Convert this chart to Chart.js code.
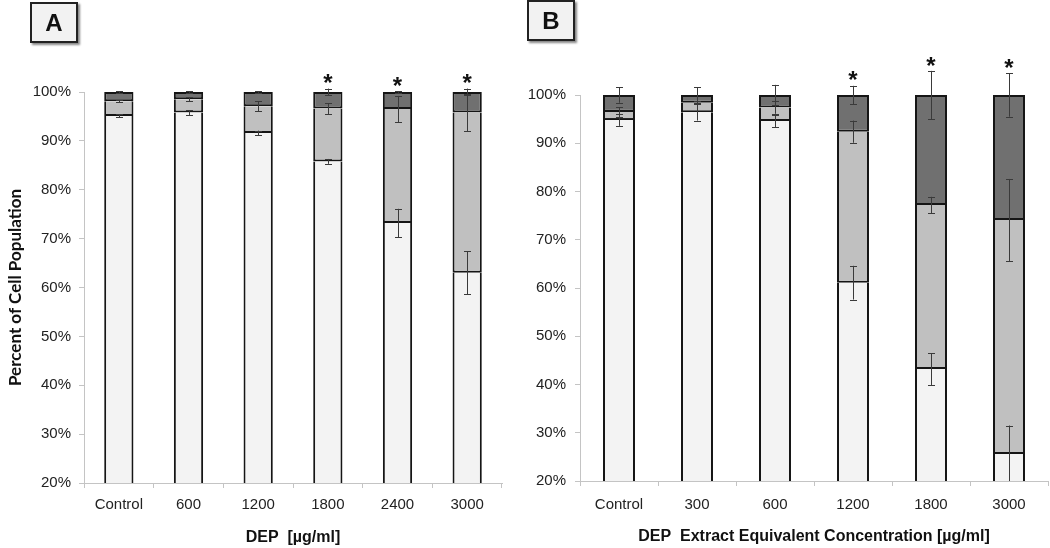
<!DOCTYPE html>
<html>
<head>
<meta charset="utf-8">
<script src="https://cdn.jsdelivr.net/npm/chart.js@4"></script>
<style>
  body { margin: 0; background: #fff; }
  .wrap { position: relative; width: 1050px; height: 548px; }
  #chartA { position: absolute; left: 0; top: 0; }
  #chartB { position: absolute; left: 520px; top: 0; }
  .panel-label {
    position: absolute; width: 44px; height: 37px;
    background: #f2f2f2; border: 2px solid #222;
    box-shadow: 2px 2px 2px #888;
    font: bold 24px "Liberation Sans", Arial, sans-serif;
    text-align: center; line-height: 37px; color: #111;
  }
</style>
</head>
<body>
<div class="wrap">
  <canvas id="chartA" width="520" height="548"></canvas>
  <canvas id="chartB" width="530" height="548"></canvas>
  <div class="panel-label" style="left:30px; top:2px;">A</div>
  <div class="panel-label" style="left:527px; top:0px;">B</div>
</div>
<script>
// Panel A - DEP
const labelsA = ['Control', '600', '1200', '1800', '2400', '3000'];
const whiteA = [95.1, 95.8, 91.6, 85.8, 73.2, 63.0];
const lightA = [3.0, 2.7, 5.5, 10.8, 23.3, 32.8];
const darkA = [1.9, 1.5, 2.9, 3.4, 3.5, 4.2];
const whiteErrA = [0.3, 0.5, 0.5, 0.5, 2.9, 4.4];
const lightErrA = [0.2, 0.4, 1.0, 1.1, 2.7, 3.8];
const darkErrA = [0.2, 0.2, 0.2, 0.7, 0.2, 0.7];
const sigA = [false, false, false, true, true, true];

// Panel B - DEP extract
const labelsB = ['Control', '300', '600', '1200', '1800', '3000'];
const whiteB = [94.8, 96.4, 94.6, 61.1, 43.2, 25.6];
const lightB = [1.7, 2.0, 2.8, 31.3, 34.0, 48.5];
const darkB = [3.5, 1.6, 2.6, 7.6, 22.8, 25.9];
const whiteErrB = [1.2, 1.7, 1.3, 3.5, 3.3, 5.9];
const lightErrB = [1.0, 0.3, 1.3, 2.3, 1.7, 8.5];
const darkErrB = [1.6, 1.6, 2.1, 1.9, 5.0, 4.5];
const sigB = [false, false, false, true, true, true];

const yTicks = [20, 30, 40, 50, 60, 70, 80, 90, 100];

const segColors = ['#f3f3f3', '#c0c0c0', '#707070'];
// each join between segments is drawn once (by the upper segment), 2px thick
const segBorders = [
  { left: 2, right: 2, top: 0, bottom: 2 },
  { left: 2, right: 2, top: 0, bottom: 2 },
  { left: 2, right: 2, top: 2, bottom: 2 }
];
const tickFont = { family: '"Liberation Sans", Arial, sans-serif', size: 15 };
const titleFont = { family: '"Liberation Sans", Arial, sans-serif', size: 16, weight: 'bold' };

// error bars + significance stars
const errorBars = {
  id: 'errorBars',
  afterDatasetsDraw(chart, args, opts) {
    const ctx = chart.ctx;
    const y = chart.scales.y;
    const yMin = y.getPixelForValue(y.min);
    ctx.save();
    ctx.strokeStyle = '#3a3a3a';
    ctx.lineWidth = 1;
    chart.data.datasets.forEach((ds, i) => {
      const meta = chart.getDatasetMeta(i);
      meta.data.forEach((bar, j) => {
        let top = 0;
        for (let k = 0; k <= i; k++) top += chart.data.datasets[k].data[j];
        const e = opts.errors[i][j];
        const yHi = y.getPixelForValue(top + e);
        const yLo = Math.min(y.getPixelForValue(top - e), yMin);
        const x = Math.round(bar.x) + 0.5;
        ctx.beginPath();
        ctx.moveTo(x, yHi); ctx.lineTo(x, yLo);
        ctx.moveTo(x - 3.5, Math.round(yHi) + 0.5); ctx.lineTo(x + 3.5, Math.round(yHi) + 0.5);
        if (yLo < yMin) {
          ctx.moveTo(x - 3.5, Math.round(yLo) + 0.5); ctx.lineTo(x + 3.5, Math.round(yLo) + 0.5);
        }
        ctx.stroke();
      });
    });
    // stars above the top error bar
    const last = chart.data.datasets.length - 1;
    const metaTop = chart.getDatasetMeta(last);
    ctx.fillStyle = '#111';
    ctx.font = 'bold 24px "Liberation Sans", Arial, sans-serif';
    ctx.textAlign = 'center';
    ctx.textBaseline = 'middle';
    opts.sig.forEach((s, j) => {
      if (!s) return;
      const yTop = y.getPixelForValue(100 + opts.errors[last][j]);
      ctx.fillText('*', metaTop.data[j].x, yTop - 4);
    });
    ctx.restore();
  }
};

function makeChart(id, labels, white, light, dark, errs, sig, cfg) {
  const series = [white, light, dark];
  return new Chart(document.getElementById(id), {
    type: 'bar',
    data: {
      labels: labels,
      datasets: series.map((d, i) => ({
        data: d,
        backgroundColor: segColors[i],
        borderColor: '#151515',
        borderWidth: segBorders[i],
        borderSkipped: false,
        categoryPercentage: 1,
        barPercentage: cfg.barPct
      }))
    },
    options: {
      responsive: false,
      animation: false,
      layout: { padding: { top: cfg.top, right: cfg.right, left: 0, bottom: 0 } },
      plugins: {
        legend: { display: false },
        tooltip: { enabled: false },
        errorBars: { errors: errs, sig: sig }
      },
      scales: {
        x: {
          stacked: true,
          afterFit(s) { s.height = cfg.xHeight; },
          grid: { drawOnChartArea: false, tickLength: 5, color: '#c4c4c4' },
          border: { color: '#c4c4c4' },
          ticks: { font: tickFont, color: '#222', padding: cfg.xPad, maxRotation: 0 },
          title: { display: true, text: cfg.xTitle, font: titleFont, color: '#111', padding: { top: 0, bottom: cfg.titlePad } }
        },
        y: {
          stacked: true,
          min: 20,
          max: 100,
          afterFit(s) { s.width = cfg.yWidth; },
          afterBuildTicks(s) { s.ticks = yTicks.map(v => ({ value: v })); },
          grid: { drawOnChartArea: false, tickLength: 5, color: '#c4c4c4' },
          border: { color: '#c4c4c4' },
          ticks: { font: tickFont, color: '#222', padding: cfg.yPad, callback: v => v + '%' },
          title: {
            display: !!cfg.yTitle, text: cfg.yTitle || '', color: '#111',
            font: { family: 'Lato, "Open Sans", sans-serif', size: 17, weight: 'bold' },
            padding: { top: 5, bottom: 0 }
          }
        }
      }
    },
    plugins: [errorBars]
  });
}

makeChart('chartA', labelsA, whiteA, lightA, darkA, [whiteErrA, lightErrA, darkErrA], sigA, {
  top: 92, right: 18, yWidth: 84, xHeight: 65, xPad: 8, yPad: 8, titlePad: 1, barPct: 0.42,
  xTitle: 'DEP  [µg/ml]', yTitle: 'Percent of Cell Population'
});
makeChart('chartB', labelsB, whiteB, lightB, darkB, [whiteErrB, lightErrB, darkErrB], sigB, {
  top: 95, right: 2, yWidth: 60, xHeight: 67, xPad: 10, yPad: 9, titlePad: 2, barPct: 0.41,
  xTitle: 'DEP  Extract Equivalent Concentration [µg/ml]'
});
</script>
</body>
</html>
